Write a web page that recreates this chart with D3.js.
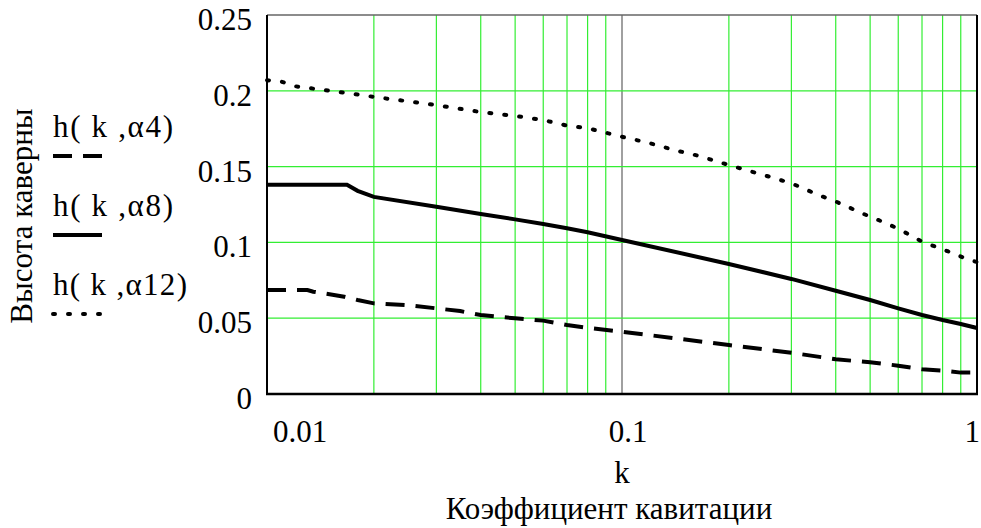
<!DOCTYPE html>
<html>
<head>
<meta charset="utf-8">
<script src="https://cdn.jsdelivr.net/npm/d3@7"></script>
<style>
  body { margin: 0; background: #fff; }
</style>
</head>
<body>
<svg id="chart" width="981" height="528"></svg>
<script>
// k values and cavity heights for each curve
var k4 = [0.01, 0.013, 0.0135, 0.0165, 0.018, 0.02, 0.025, 0.03, 0.035, 0.04, 0.05, 0.06, 0.07, 0.08, 0.1, 0.2, 0.3, 0.4, 0.5, 0.6, 0.7, 0.8, 0.9, 1.0];
var h4 = [0.0686, 0.0686, 0.0675, 0.0642, 0.062, 0.0598, 0.0585, 0.0565, 0.0547, 0.0521, 0.0499, 0.0484, 0.0455, 0.0437, 0.0411, 0.0323, 0.0272, 0.0229, 0.0209, 0.0187, 0.0163, 0.0154, 0.0141, 0.0141];

var k8 = [0.01, 0.0168, 0.018, 0.02, 0.03, 0.04, 0.05, 0.06, 0.07, 0.08, 0.1, 0.2, 0.3, 0.4, 0.5, 0.6, 0.7, 0.8, 0.9, 1.0];
var h8 = [0.138, 0.138, 0.134, 0.130, 0.1235, 0.1187, 0.1152, 0.1121, 0.1093, 0.1067, 0.1016, 0.0858, 0.0759, 0.0681, 0.062, 0.0565, 0.0521, 0.0488, 0.0462, 0.0435];

var k12 = [0.01, 0.011, 0.012, 0.015, 0.018, 0.02, 0.025, 0.03, 0.04, 0.05, 0.06, 0.07, 0.08, 0.1, 0.12, 0.14, 0.165, 0.2, 0.25, 0.3, 0.36, 0.4, 0.48, 0.55, 0.6, 0.7, 0.83, 0.95, 1.0];
var h12 = [0.207, 0.206, 0.203, 0.2, 0.1975, 0.196, 0.193, 0.1905, 0.186, 0.1834, 0.1807, 0.177, 0.1753, 0.1697, 0.1654, 0.161, 0.157, 0.151, 0.1445, 0.139, 0.131, 0.127, 0.1187, 0.113, 0.109, 0.1005, 0.094, 0.0885, 0.087];

var seriesNames = ["h( k ,\u03b14)", "h( k ,\u03b18)", "h( k ,\u03b112)"];
var yTicks = [0, 0.05, 0.1, 0.15, 0.2, 0.25];
var xTicks = [0.01, 0.1, 1];
var xTickLabels = ["0.01", "0.1", "1"];

var FONT = "'Liberation Serif'";

var margin = {top: 15, right: 4, bottom: 134, left: 267};
var width = 981, height = 528;

var x = d3.scaleLog()
  .domain([0.01, 1])
  .range([margin.left, width - margin.right]);

var y = d3.scaleLinear()
  .domain([0, 0.25])
  .range([height - margin.bottom, margin.top]);

var svg = d3.select("#chart");

// grid
var minor = [];
[0.01, 0.1].forEach(function(d) {
  for (var i = 2; i <= 9; i++) minor.push(d * i);
});

svg.append("g")
  .selectAll("line")
  .data(minor)
  .join("line")
    .attr("x1", d => x(d)).attr("x2", d => x(d))
    .attr("y1", y(0)).attr("y2", y(0.25))
    .attr("stroke", "#33ee33")
    .attr("stroke-width", 1.2);

svg.append("line")
  .attr("x1", x(0.1)).attr("x2", x(0.1))
  .attr("y1", y(0)).attr("y2", y(0.25))
  .attr("stroke", "#808080")
  .attr("stroke-width", 1.5);

svg.append("g")
  .selectAll("line")
  .data(yTicks.slice(1, -1))
  .join("line")
    .attr("x1", x(0.01)).attr("x2", x(1))
    .attr("y1", d => y(d)).attr("y2", d => y(d))
    .attr("stroke", "#33ee33")
    .attr("stroke-width", 1.2);

// frame
svg.append("line")
  .attr("x1", x(0.01)).attr("x2", x(1))
  .attr("y1", y(0.25)).attr("y2", y(0.25))
  .attr("stroke", "#666").attr("stroke-width", 1.5);
svg.append("line")
  .attr("x1", x(0.01)).attr("x2", x(0.01))
  .attr("y1", y(0)).attr("y2", y(0.25))
  .attr("stroke", "#000").attr("stroke-width", 2);
svg.append("line")
  .attr("x1", x(1)).attr("x2", x(1))
  .attr("y1", y(0)).attr("y2", y(0.25))
  .attr("stroke", "#000").attr("stroke-width", 2);
svg.append("line")
  .attr("x1", x(0.01) - 1).attr("x2", x(1) + 1)
  .attr("y1", y(0)).attr("y2", y(0))
  .attr("stroke", "#000").attr("stroke-width", 2.5);

// curves
var line = d3.line()
  .x(d => x(d[0]))
  .y(d => y(d[1]));

var series = [
  {k: k4, h: h4, dash: "19,11", cap: "butt"},
  {k: k8, h: h8, dash: null, cap: "butt"},
  {k: k12, h: h12, dash: "2,13", cap: "round"}
];

series.forEach(function(s) {
  svg.append("path")
    .datum(s.k.map((d, i) => [d, s.h[i]]))
    .attr("d", line)
    .attr("fill", "none")
    .attr("stroke", "#000")
    .attr("stroke-width", 4)
    .attr("stroke-linecap", s.cap)
    .attr("stroke-dasharray", s.dash);
});

// tick labels
svg.append("g")
  .selectAll("text")
  .data(yTicks)
  .join("text")
    .attr("x", margin.left - 15)
    .attr("y", d => y(d) + 15)
    .attr("text-anchor", "end")
    .style("font-family", FONT)
    .style("font-size", "31px")
    .text(d => d === 0 ? "0" : String(d));

svg.append("g")
  .selectAll("text")
  .data(xTicks)
  .join("text")
    .attr("x", (d, i) => x(d) + [6, 6, 3][i])
    .attr("y", 442)
    .attr("text-anchor", (d, i) => ["start", "middle", "end"][i])
    .style("font-family", FONT)
    .style("font-size", "31px")
    .text((d, i) => xTickLabels[i]);

// axis titles
svg.append("text")
  .attr("x", x(0.1))
  .attr("y", 483)
  .attr("text-anchor", "middle")
  .style("font-family", FONT)
  .style("font-size", "31px")
  .text("k");

svg.append("text")
  .attr("x", 609)
  .attr("y", 519)
  .attr("text-anchor", "middle")
  .style("font-family", FONT)
  .style("font-size", "31px")
  .text("Коэффициент кавитации");

svg.append("text")
  .attr("transform", "translate(32,216) rotate(-90)")
  .attr("text-anchor", "middle")
  .style("font-family", FONT)
  .style("font-size", "31px")
  .text("Высота каверны");

// legend
var legend = svg.append("g");
series.forEach(function(s, i) {
  var by = 137 + i * 79;
  legend.append("text")
    .attr("x", 53)
    .attr("y", by)
    .attr("textLength", i === 2 ? 134 : 120)
    .attr("lengthAdjust", "spacing")
    .style("font-family", FONT)
    .style("font-size", "31px")
    .text(seriesNames[i]);
  legend.append("line")
    .attr("x1", 53).attr("x2", 102)
    .attr("y1", by + 19).attr("y2", by + 19)
    .attr("stroke", "#000")
    .attr("stroke-width", 4)
    .attr("stroke-linecap", s.cap)
    .attr("stroke-dasharray", s.dash);
});
</script>
</body>
</html>
